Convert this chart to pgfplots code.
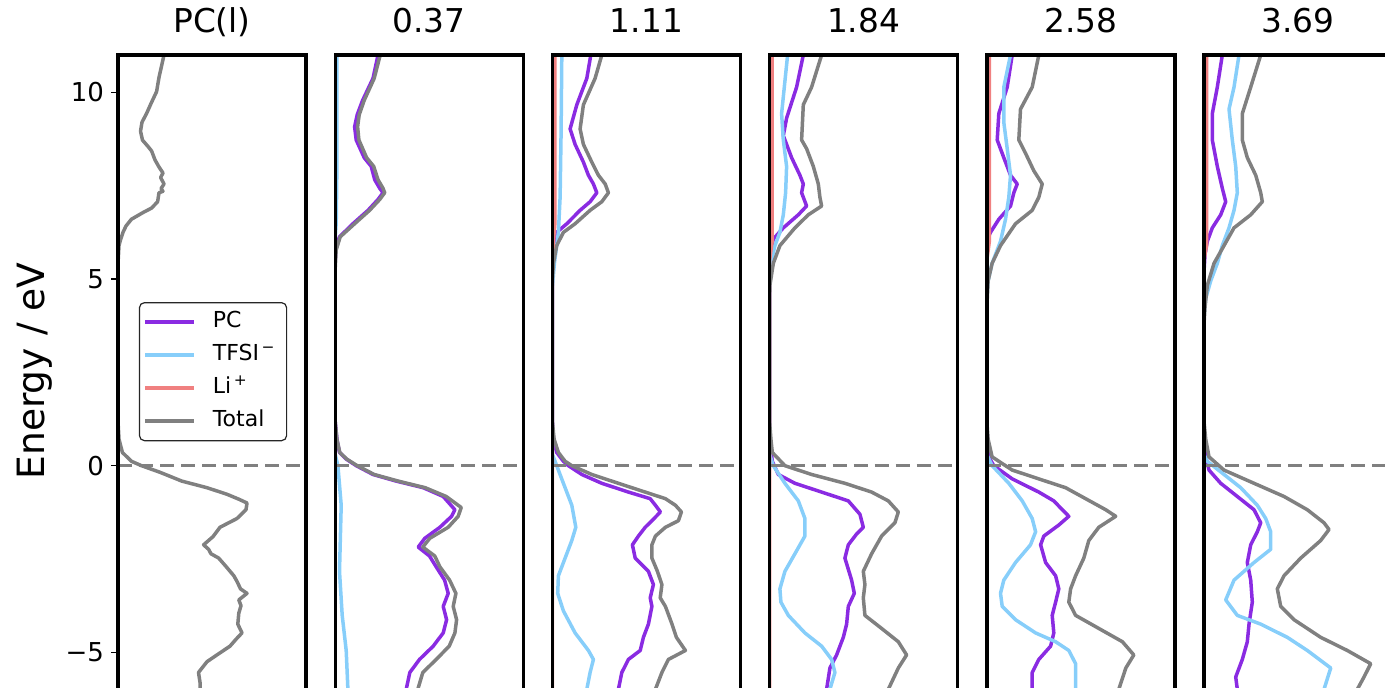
\documentclass[border=0pt]{standalone}
\usepackage{fontspec}
\setmainfont{DejaVu Sans}
\usepackage{pgfplots}
\pgfplotsset{compat=1.18}
\definecolor{pccol}{HTML}{8A2BE2}
\definecolor{tfsicol}{HTML}{87CEFA}
\definecolor{licol}{HTML}{F08080}
\definecolor{totcol}{HTML}{808080}
\pgfplotsset{
  pc/.style={pccol, line width=1.75pt, line join=round},
  tfsi/.style={tfsicol, line width=1.75pt, line join=round},
  li/.style={licol, line width=1.75pt, line join=round},
  tot/.style={totcol, line width=1.75pt, line join=round},
  zeroline/.style={totcol, line width=1.7pt, dash pattern=on 7pt off 3.5pt, forget plot},
  panel/.style={
    scale only axis, width=94pt, height=319.2pt,
    xmin=0, xmax=188, ymin=-6.1, ymax=11,
    anchor=north west,
    axis line style={line width=1.7pt},
    axis on top,
    xtick=\empty, ytick=\empty,
    title style={font=\fontsize{16.4}{19}\selectfont, at={(axis description cs:0.5,1)}, anchor=base, yshift=5.3pt},
  },
}
\begin{document}
\begin{tikzpicture}
% ---------- panel 1 ----------
\begin{axis}[panel, at={(59pt,-27.5pt)}, title={PC(l)},
  ytick={-5,0,5,10}, yticklabels={−5,0,5,10},
  tick align=outside, tick pos=left,
  major tick length=3.5pt,
  every tick/.style={black, line width=0.8pt},
  yticklabel style={font=\fontsize{13}{15}\selectfont},
  ylabel={Energy / eV},
  every axis y label/.style={at={(axis description cs:-0.3915,0.505)}, rotate=90, anchor=base, font=\fontsize{18.8}{22}\selectfont},
  legend style={at={(axis description cs:0.111,0.613)}, anchor=north west,
    draw=black!85, line width=0.6pt, rounded corners=2.5pt,
    font=\fontsize{11}{13}\selectfont, fill=white,
    inner xsep=2pt, inner ysep=1.5pt,
    nodes={text height=8pt, text depth=2.5pt, inner ysep=3pt, inner xsep=3.5pt},
    /tikz/every odd column/.append style={column sep=5pt}},
  legend cell align=left,
  legend image code/.code={\draw[#1] (0pt,0pt) -- (24.5pt,0pt);},
]
\addlegendimage{pc}
\addlegendimage{tfsi}
\addlegendimage{li}
\addplot[tot] coordinates {(46,11) (41,10.4) (38.6,10.02) (33,9.7) (28.5,9.43) (24,9.2) (22.5,8.96) (24.5,8.72) (30,8.55) (33.6,8.43) (37,8.19) (41,8.0) (45,7.84) (42.6,7.72) (46,7.545) (43,7.42) (45,7.35) (41,7.31) (39.6,7.07) (33.6,6.90) (25,6.78) (13.4,6.60) (8,6.42) (5,6.25) (2.5,6.05) (1,5.895) (0,5.42) (0,1.18) (1,0.71) (4.4,0.354) (13.4,0.118) (23.5,0) (42,-0.177) (63.8,-0.413) (89,-0.59) (109,-0.766) (121,-0.9) (129,-1.0) (128,-1.18) (119,-1.415) (102,-1.65) (95,-1.9) (85.6,-2.12) (90.6,-2.24) (93,-2.36) (100.7,-2.476) (108,-2.7) (115.8,-2.948) (119,-3.1) (122.5,-3.30) (129,-3.42) (120.8,-3.596) (123,-3.75) (120.8,-3.95) (119.8,-4.244) (124,-4.48) (118,-4.65) (112,-4.834) (100,-5.05) (89,-5.25) (80.5,-5.54) (82,-5.8) (82,-6.1)};
\addplot[zeroline] coordinates {(0,0) (188,0)};
\legend{PC, TFSI\textsuperscript{\,−}, Li\textsuperscript{\,+}, Total}
\end{axis}
% ---------- panel 2 ----------
\begin{axis}[panel, at={(167.6pt,-27.5pt)}, title={0.37}]
\addplot[pc] coordinates {(42.8,11) (37.8,10.375) (27.4,9.785) (22,9.4) (19.4,9.078) (21,8.724) (29,8.25) (36,8.017) (39.5,7.66) (44.5,7.43) (47.8,7.31) (42.8,7.13) (32.8,6.84) (17.7,6.48) (4.3,6.13) (1,5.895) (0,5.5) (0,1.18) (1.7,0.71) (4.3,0.354) (11,0.177) (21,0) (37.8,-0.236) (61,-0.413) (88,-0.59) (108,-0.825) (119.7,-1.18) (116.4,-1.356) (104.7,-1.65) (89.6,-1.945) (83,-2.18) (94.3,-2.42) (101,-2.71) (109.4,-3.066) (113,-3.42) (108,-3.77) (111.4,-4.126) (108,-4.48) (98,-4.834) (84.3,-5.19) (74.6,-5.54) (71,-5.99) (71,-6.1)};
\addplot[tfsi] coordinates {(1.7,11) (1.7,8) (1,6.5) (0,6.1) (0,0.3) (2.7,0) (6,-1.06) (4.3,-2.83) (7,-4.01) (11,-4.95) (12.7,-5.99) (12.7,-6.1)};
\addplot[li] coordinates {(0,11) (0,-6.1)};
\addplot[tot] coordinates {(45,11) (39,10.375) (29,9.785) (24,9.4) (22.4,9.078) (23.7,8.724) (31.4,8.25) (38.5,8.017) (42.8,7.66) (47.8,7.43) (49.5,7.31) (44.5,7.13) (34.4,6.84) (19.4,6.48) (5,6.13) (1,5.78) (0,5.3) (0,1.18) (1.7,0.71) (4.6,0.354) (11.5,0.177) (22,0) (39,-0.236) (63,-0.413) (90,-0.59) (111,-0.825) (126,-1.12) (123,-1.356) (113,-1.65) (94.6,-1.945) (87.6,-2.18) (99.6,-2.42) (104.7,-2.71) (114.4,-3.066) (120.7,-3.42) (118,-3.77) (121.4,-4.126) (119.7,-4.48) (114,-4.834) (101,-5.19) (87.6,-5.54) (82.6,-5.99) (82.6,-6.1)};
\addplot[zeroline] coordinates {(0,0) (188,0)};
\end{axis}
% ---------- panel 3 ----------
\begin{axis}[panel, at={(276.2pt,-27.5pt)}, title={1.11}]
\addplot[pc] coordinates {(38.4,11) (34.4,10.375) (24.4,9.667) (17.7,9.02) (22.7,8.606) (31,8.13) (36,7.78) (41,7.545) (44.4,7.31) (37.7,7.07) (27.7,6.84) (14.4,6.48) (4.3,6.25) (1,5.895) (0,5.42) (0,1.18) (1,0.71) (4.3,0.354) (11,0.118) (16,0) (29.4,-0.236) (49.4,-0.472) (76,-0.707) (97.8,-0.884) (103,-1.06) (108,-1.24) (99.5,-1.474) (92.8,-1.65) (86,-1.886) (80,-2.12) (82.8,-2.476) (96,-2.83) (101,-3.184) (97.8,-3.54) (99.5,-3.77) (96,-4.244) (91,-4.598) (87.8,-4.95) (76,-5.19) (69.4,-5.54) (66,-5.99) (66,-6.1)};
\addplot[tfsi] coordinates {(9.4,11) (8.7,8.96) (7.7,7.19) (6,6.25) (4.3,5.895) (2,5.42) (0,4.8) (0,0.3) (4.3,0) (11,-0.472) (19.4,-1.06) (23.4,-1.65) (19.4,-2.004) (12.7,-2.476) (6,-2.948) (5.3,-3.42) (11,-3.89) (22.7,-4.48) (36,-4.95) (41,-5.19) (37.7,-5.54) (34.4,-5.99) (34.4,-6.1)};
\addplot[li] coordinates {(2.5,11) (2.5,6.5) (1,6.0) (0,5.5) (0,-6.1)};
\addplot[tot] coordinates {(49.4,11) (42.7,10.375) (31,9.667) (27.7,9.02) (31,8.606) (39.4,8.13) (46,7.78) (52.8,7.545) (56,7.31) (49.4,7.07) (37.7,6.84) (22.7,6.48) (11,6.25) (4.3,5.895) (1,5.42) (0,5.0) (0,1.18) (1.7,0.71) (6,0.354) (12.7,0.118) (19.4,0) (39.4,-0.236) (66,-0.472) (92.8,-0.707) (113,-0.884) (123,-1.06) (129,-1.24) (126,-1.474) (113,-1.65) (103,-1.886) (99.5,-2.12) (99.5,-2.476) (105,-2.83) (109.5,-3.184) (107.8,-3.54) (113,-3.77) (119.6,-4.244) (124,-4.598) (133,-4.95) (116,-5.19) (109.5,-5.54) (103,-5.99) (103,-6.1)};
\addplot[zeroline] coordinates {(0,0) (188,0)};
\end{axis}
% ---------- panel 4 ----------
\begin{axis}[panel, at={(384.8pt,-27.5pt)}, title={1.84}]
\addplot[pc] coordinates {(33.7,11) (27,10.14) (17,9.31) (13.7,8.84) (22,8.25) (30.3,7.78) (33.7,7.545) (32,7.31) (37,6.955) (28.7,6.72) (13.7,6.37) (3.7,6.07) (1.3,5.78) (0,5.3) (0,1.0) (1,0.5) (2.7,0.118) (8.7,-0.236) (25.3,-0.472) (52,-0.707) (78.7,-0.943) (90.3,-1.30) (93.7,-1.65) (87,-1.83) (78.7,-2.12) (75.3,-2.476) (82,-3.066) (84.7,-3.42) (78.7,-3.77) (77,-4.244) (73.7,-4.598) (67,-5.07) (60.3,-5.42) (57,-5.99) (57,-6.1)};
\addplot[tfsi] coordinates {(18,11) (14.7,10.14) (12,9.43) (13.7,8.724) (17,8.017) (16,7.31) (13.7,6.72) (10.3,6.25) (5.3,5.895) (1.3,5.42) (0,5.0) (0,0.3) (3.7,0) (15.3,-0.472) (28.7,-0.943) (35.3,-1.415) (35.3,-1.886) (25.3,-2.36) (15.3,-2.83) (10.3,-3.30) (11.3,-3.655) (18.7,-4.01) (35.3,-4.48) (52,-4.834) (62,-5.19) (65.3,-5.54) (60.3,-5.99) (60.3,-6.1)};
\addplot[li] coordinates {(2.5,11) (2.5,6) (0,5.5) (0,-6.1)};
\addplot[tot] coordinates {(52,11) (42,10.14) (33.7,9.667) (32,8.724) (37,8.49) (43.7,8.017) (48.7,7.545) (50.3,7.19) (52,6.955) (38.7,6.72) (25.3,6.37) (10.3,5.895) (3.7,5.42) (0.3,4.83) (0,4.5) (0,1.18) (1.3,0.71) (2.7,0.354) (15.3,0) (42,-0.236) (75.3,-0.472) (102,-0.707) (118.7,-0.943) (128.7,-1.24) (125.3,-1.53) (112,-1.886) (102,-2.36) (93.7,-2.83) (95.3,-3.184) (93.7,-3.54) (95.3,-4.01) (112,-4.36) (128.7,-4.716) (137,-5.07) (128.7,-5.42) (118.7,-5.99) (118.7,-6.1)};
\addplot[zeroline] coordinates {(0,0) (188,0)};
\end{axis}
% ---------- panel 5 ----------
\begin{axis}[panel, at={(493.4pt,-27.5pt)}, title={2.58}]
\addplot[pc] coordinates {(25.4,11) (20.4,10.14) (12,9.43) (10.4,8.724) (17,8.25) (23.7,7.78) (30.4,7.545) (27,7.31) (23.7,6.955) (12,6.60) (3.7,6.25) (0.7,6.07) (0,5.8) (0,1.0) (2,0.236) (7,0) (25.4,-0.354) (52,-0.707) (67,-0.943) (75.5,-1.18) (82,-1.356) (72,-1.59) (57,-1.886) (53.8,-2.12) (58.8,-2.594) (68.8,-2.948) (72,-3.30) (68.8,-3.655) (65.4,-4.01) (67,-4.48) (63.8,-4.834) (52,-5.19) (45.4,-5.54) (45.4,-5.99) (45.4,-6.1)};
\addplot[tfsi] coordinates {(23.7,11) (17,10.14) (17,9.196) (20.4,8.49) (23.7,7.78) (22,7.19) (18.7,6.60) (13.7,6.01) (5.3,5.42) (1.3,4.95) (0,4.5) (0,0.3) (5.3,0) (22,-0.472) (35.4,-0.943) (45.4,-1.415) (48.8,-1.77) (43.7,-2.12) (28.7,-2.594) (17,-3.066) (13.7,-3.42) (15.4,-3.77) (28.7,-4.126) (48.8,-4.48) (68.8,-4.716) (82,-4.95) (88.8,-5.305) (88.8,-5.99) (88.8,-6.1)};
\addplot[li] coordinates {(2.5,11) (2.5,6.0) (0,5.5) (0,-6.1)};
\addplot[tot] coordinates {(52,11) (45.4,10.14) (33.7,9.55) (32,8.724) (38.7,8.37) (47,7.9) (55.4,7.545) (52,7.19) (45.4,6.84) (28.7,6.48) (13.7,5.895) (5.3,5.42) (1.3,4.95) (0,4.24) (0,1.18) (1.3,0.71) (5.3,0.236) (25.4,-0.118) (52,-0.354) (78.8,-0.59) (98.8,-0.884) (118.9,-1.18) (128.9,-1.356) (112,-1.65) (102,-2.004) (97,-2.476) (88.8,-2.948) (83.8,-3.30) (82,-3.655) (88.8,-4.01) (112,-4.36) (135.6,-4.716) (147,-5.07) (139,-5.42) (132,-5.99) (132,-6.1)};
\addplot[zeroline] coordinates {(0,0) (188,0)};
\end{axis}
% ---------- panel 6 ----------
\begin{axis}[panel, at={(602pt,-27.5pt)}, title={3.69}]
\addplot[pc] coordinates {(18.3,11) (13.3,10.14) (8.3,9.43) (8.3,8.724) (13.3,8.017) (18.3,7.43) (21.7,7.07) (16.7,6.72) (8.3,6.37) (3.3,6.01) (1,5.66) (0,5.2) (0,1.0) (1.7,0.236) (5,-0.118) (16.7,-0.472) (33.3,-0.825) (50,-1.18) (56.7,-1.53) (53.3,-1.77) (46.7,-2.12) (43.3,-2.594) (46.7,-3.066) (48.3,-3.655) (45,-4.244) (43.3,-4.716) (38.3,-5.19) (31.7,-5.66) (33.3,-5.99) (33.3,-6.1)};
\addplot[tfsi] coordinates {(35,11) (30,10.14) (25,9.55) (28.3,8.724) (31.7,8.017) (33.3,7.31) (30,6.84) (25,6.37) (18.3,5.895) (13.3,5.42) (6.7,4.95) (1.7,4.48) (0,4.0) (0,0.3) (3.3,0.118) (20,-0.236) (36.7,-0.59) (53.3,-1.06) (61.7,-1.415) (66.7,-1.77) (66.7,-2.24) (50,-2.594) (30,-3.066) (21.7,-3.596) (33.3,-4.01) (56.7,-4.244) (83.3,-4.598) (103.3,-4.95) (126.7,-5.42) (120,-5.99) (120,-6.1)};
\addplot[li] coordinates {(2.5,11) (2.5,5.9) (0,5.5) (0,-6.1)};
\addplot[tot] coordinates {(56.7,11) (46.7,10.14) (38.3,9.43) (38.3,8.724) (43.3,8.25) (51.7,7.78) (56.7,7.31) (58.3,7.07) (46.7,6.72) (30,6.37) (20,5.895) (10,5.42) (3.3,4.83) (1,4.24) (0,3.8) (0,1.18) (1.7,0.71) (5,0.236) (20,-0.118) (50,-0.472) (80,-0.825) (103.3,-1.18) (120,-1.53) (125,-1.71) (116.7,-2.004) (96.7,-2.476) (80,-2.948) (73.3,-3.30) (76.7,-3.77) (90,-4.126) (116.7,-4.598) (143.3,-4.95) (166.7,-5.305) (160,-5.66) (153.3,-5.99) (153.3,-6.1)};
\addplot[zeroline] coordinates {(0,0) (188,0)};
\end{axis}
\pgfresetboundingbox
\useasboundingbox (0,0) rectangle (692.5pt,-343.5pt);
\end{tikzpicture}
\end{document}
